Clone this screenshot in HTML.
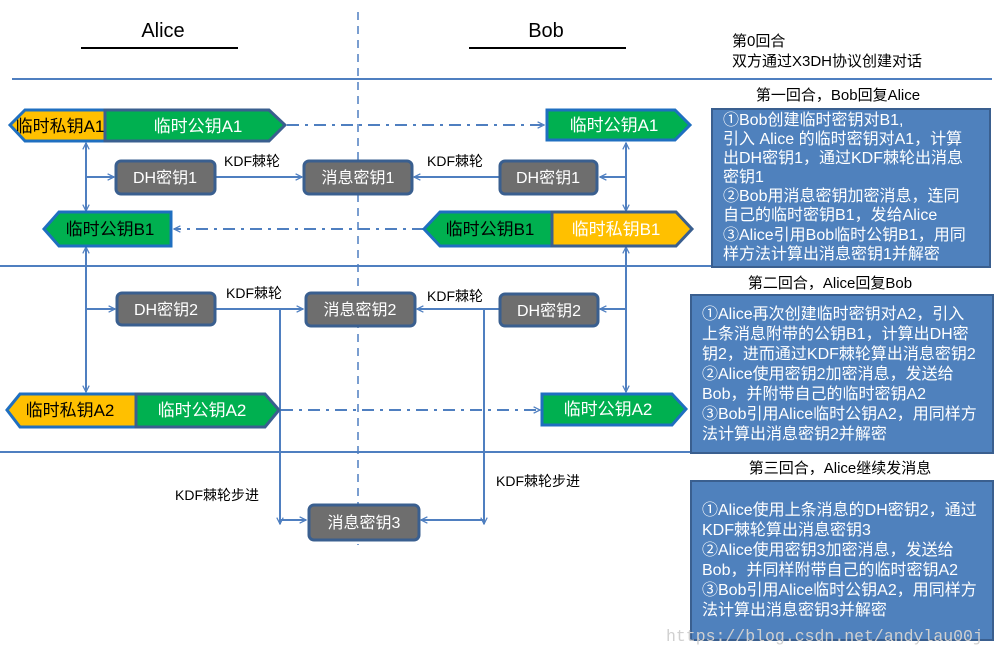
<!DOCTYPE html>
<html><head><meta charset="utf-8"><style>
html,body{margin:0;padding:0;background:#fff;}
svg{display:block;}
text{font-family:"Liberation Sans","Noto Sans CJK SC",sans-serif;}
</style></head><body>
<svg width="998" height="655" viewBox="0 0 998 655" xmlns="http://www.w3.org/2000/svg">
<defs>
<marker id="ar" viewBox="0 0 10 10" refX="9" refY="5" markerWidth="8" markerHeight="8" orient="auto-start-reverse" markerUnits="userSpaceOnUse">
<path d="M1,1 L9,5 L1,9" fill="none" stroke="#4f7fc0" stroke-width="1.6"/></marker>
</defs>
<text x="163" y="37" font-size="20" text-anchor="middle" fill="#000">Alice</text>
<line x1="81" y1="48" x2="238" y2="48" stroke="#000" stroke-width="2"/>
<text x="546" y="37" font-size="20" text-anchor="middle" fill="#000">Bob</text>
<line x1="469" y1="48" x2="626" y2="48" stroke="#000" stroke-width="2"/>
<text x="732" y="46" font-size="15">第0回合</text>
<text x="732" y="66" font-size="15">双方通过X3DH协议创建对话</text>
<line x1="358" y1="12" x2="358" y2="545" stroke="#4f7fc0" stroke-width="1.5" stroke-dasharray="8,6"/>
<line x1="12" y1="79" x2="992" y2="79" stroke="#4f7fc0" stroke-width="2"/>
<line x1="0" y1="266" x2="712" y2="266" stroke="#4f7fc0" stroke-width="2"/>
<line x1="0" y1="452" x2="692" y2="452" stroke="#4f7fc0" stroke-width="2"/>

<g font-size="16" fill="#fff">
<text x="838" y="100" font-size="15" fill="#000" text-anchor="middle">第一回合，Bob回复Alice</text>
<rect x="712" y="109" width="278" height="158" fill="#4f81bd" stroke="#3a5f8f" stroke-width="2"/>
<text x="723" y="125">①Bob创建临时密钥对B1,</text>
<text x="723" y="144">引入 Alice 的临时密钥对A1，计算</text>
<text x="723" y="163">出DH密钥1，通过KDF棘轮出消息</text>
<text x="723" y="182">密钥1</text>
<text x="723" y="201">②Bob用消息密钥加密消息，连同</text>
<text x="723" y="220">自己的临时密钥B1，发给Alice</text>
<text x="723" y="240">③Alice引用Bob临时公钥B1，用同</text>
<text x="723" y="259">样方法计算出消息密钥1并解密</text>

<text x="830" y="288" font-size="15" fill="#000" text-anchor="middle">第二回合，Alice回复Bob</text>
<rect x="691" y="295" width="302" height="158" fill="#4f81bd" stroke="#3a5f8f" stroke-width="2"/>
<text x="702" y="319">①Alice再次创建临时密钥对A2，引入</text>
<text x="702" y="339">上条消息附带的公钥B1，计算出DH密</text>
<text x="702" y="359">钥2，进而通过KDF棘轮算出消息密钥2</text>
<text x="702" y="379">②Alice使用密钥2加密消息，发送给</text>
<text x="702" y="399">Bob，并附带自己的临时密钥A2</text>
<text x="702" y="419">③Bob引用Alice临时公钥A2，用同样方</text>
<text x="702" y="439">法计算出消息密钥2并解密</text>

<text x="840" y="473" font-size="15" fill="#000" text-anchor="middle">第三回合，Alice继续发消息</text>
<rect x="691" y="481" width="302" height="159" fill="#4f81bd" stroke="#3a5f8f" stroke-width="2"/>
<text x="702" y="515">①Alice使用上条消息的DH密钥2，通过</text>
<text x="702" y="535">KDF棘轮算出消息密钥3</text>
<text x="702" y="555">②Alice使用密钥3加密消息，发送给</text>
<text x="702" y="575">Bob，并同样附带自己的临时密钥A2</text>
<text x="702" y="595">③Bob引用Alice临时公钥A2，用同样方</text>
<text x="702" y="615">法计算出消息密钥3并解密</text>
</g>
<text x="666" y="641" font-size="16.5" fill="#d0d0d0" style="font-family:'Liberation Mono',monospace">https://blog.csdn.net/andylau00j</text>

<g stroke="#4f7fc0" stroke-width="2" fill="none">
<line x1="86" y1="143" x2="86" y2="211" marker-start="url(#ar)" marker-end="url(#ar)"/>
<line x1="86" y1="177" x2="114" y2="177" marker-end="url(#ar)"/>
<line x1="215" y1="177" x2="302" y2="177" marker-end="url(#ar)"/>
<line x1="626" y1="143" x2="626" y2="211" marker-start="url(#ar)" marker-end="url(#ar)"/>
<line x1="626" y1="177" x2="600" y2="177" marker-end="url(#ar)"/>
<line x1="499" y1="177" x2="414" y2="177" marker-end="url(#ar)"/>
<line x1="287" y1="125" x2="544" y2="125" stroke-dasharray="12,6,3,6" marker-end="url(#ar)"/>
<line x1="424" y1="229" x2="174" y2="229" stroke-dasharray="12,6,3,6" marker-end="url(#ar)"/>

<line x1="86" y1="247" x2="86" y2="392" marker-start="url(#ar)" marker-end="url(#ar)"/>
<line x1="86" y1="309" x2="115" y2="309" marker-end="url(#ar)"/>
<line x1="215" y1="309" x2="303" y2="309" marker-end="url(#ar)"/>
<line x1="626" y1="247" x2="626" y2="392" marker-start="url(#ar)" marker-end="url(#ar)"/>
<line x1="626" y1="309" x2="600" y2="309" marker-end="url(#ar)"/>
<line x1="499" y1="309" x2="417" y2="309" marker-end="url(#ar)"/>
<line x1="281" y1="410" x2="540" y2="410" stroke-dasharray="12,6,3,6" marker-end="url(#ar)"/>

<line x1="280" y1="309" x2="280" y2="524" marker-end="url(#ar)"/>
<line x1="280" y1="520" x2="306" y2="520" marker-end="url(#ar)"/>
<line x1="484" y1="309" x2="484" y2="524" marker-end="url(#ar)"/>
<line x1="484" y1="520" x2="421" y2="520" marker-end="url(#ar)"/>
</g>

<g font-size="14" fill="#000">
<text x="224" y="166">KDF棘轮</text>
<text x="427" y="166">KDF棘轮</text>
<text x="226" y="298">KDF棘轮</text>
<text x="427" y="301">KDF棘轮</text>
<text x="175" y="500">KDF棘轮步进</text>
<text x="496" y="486">KDF棘轮步进</text>
</g>

<g stroke="#3a5f8f" stroke-width="3" fill="#6e6e6e">
<rect x="116" y="161" width="99" height="33" rx="5"/>
<rect x="304" y="161" width="108" height="33" rx="5"/>
<rect x="500" y="161" width="97" height="33" rx="5"/>
<rect x="117" y="293" width="98" height="32" rx="5"/>
<rect x="306" y="293" width="109" height="33" rx="5"/>
<rect x="500" y="294" width="98" height="32" rx="5"/>
<rect x="309" y="505" width="110" height="35" rx="5"/>
</g>
<g font-size="16" fill="#fff" text-anchor="middle">
<text x="165" y="183">DH密钥1</text>
<text x="358" y="183">消息密钥1</text>
<text x="548" y="183">DH密钥1</text>
<text x="166" y="315">DH密钥2</text>
<text x="360" y="315">消息密钥2</text>
<text x="549" y="316">DH密钥2</text>
<text x="364" y="528">消息密钥3</text>
</g>

<g stroke-width="3" stroke-linejoin="miter">
<path d="M10,125 L25,110 L105,110 L105,141 L25,141 Z" fill="#ffc000" stroke="#1f6fc0"/>
<path d="M105,110 L269,110 L285,125 L269,141 L105,141 Z" fill="#00b050" stroke="#3a5f8f"/>
<path d="M547,110 L675,110 L690,125 L675,140 L547,140 Z" fill="#00b050" stroke="#1f6fc0"/>
<path d="M44,229 L59,212 L171,212 L171,246 L59,246 Z" fill="#00b050" stroke="#1f6fc0"/>
<path d="M424,229 L440,212 L552,212 L552,246 L440,246 Z" fill="#00b050" stroke="#1f6fc0"/>
<path d="M552,212 L676,212 L692,229 L676,246 L552,246 Z" fill="#ffc000" stroke="#3a5f8f"/>
<path d="M7,410 L20,394 L136,394 L136,427 L20,427 Z" fill="#ffc000" stroke="#1f6fc0"/>
<path d="M136,394 L265,394 L279,410 L265,427 L136,427 Z" fill="#00b050" stroke="#3a5f8f"/>
<path d="M542,394 L672,394 L686,409 L672,425 L542,425 Z" fill="#00b050" stroke="#1f6fc0"/>
</g>
<g font-size="17">
<text x="60" y="132" text-anchor="middle" fill="#000">临时私钥A1</text>
<text x="198" y="132" text-anchor="middle" fill="#fff">临时公钥A1</text>
<text x="614" y="131" text-anchor="middle" fill="#fff">临时公钥A1</text>
<text x="110" y="235" text-anchor="middle" fill="#000">临时公钥B1</text>
<text x="490" y="235" text-anchor="middle" fill="#000">临时公钥B1</text>
<text x="616" y="235" text-anchor="middle" fill="#fff">临时私钥B1</text>
<text x="70" y="416" text-anchor="middle" fill="#000">临时私钥A2</text>
<text x="202" y="416" text-anchor="middle" fill="#fff">临时公钥A2</text>
<text x="608" y="415" text-anchor="middle" fill="#fff">临时公钥A2</text>
</g>
</svg>
</body></html>
